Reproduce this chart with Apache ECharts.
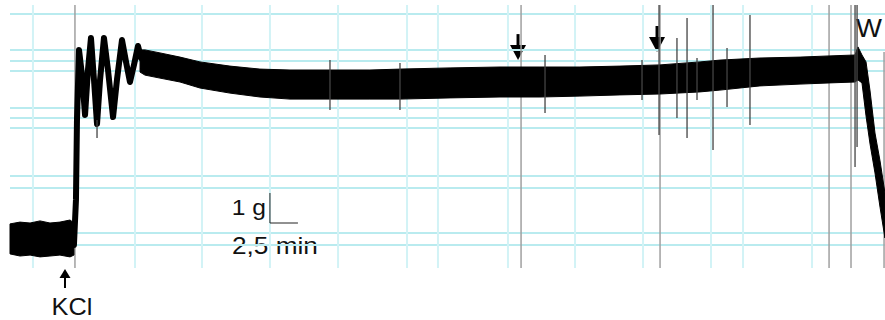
<!DOCTYPE html>
<html><head><meta charset="utf-8">
<script src="https://cdn.jsdelivr.net/npm/echarts@6/dist/echarts.min.js"></script>
<style>html,body{margin:0;padding:0;background:#fff}#c{width:885px;height:320px}</style>
</head><body><div id="c"></div>
<script>
// ---- time axis in minutes, tension in grams ----
// baseline (before KCl)
const baseT  = [0, 0.89, 1.79, 2.68, 3.57, 4.46, 5.36, 5.71];
const baseHi = [1.47, 1.53, 1.50, 1.57, 1.50, 1.53, 1.60, 1.50];
const baseLo = [0.47, 0.40, 0.43, 0.37, 0.40, 0.43, 0.37, 0.43];
// KCl contraction: oscillating rise (trace centre)
const oscT = [5.71, 5.89, 5.98, 6.16, 6.43, 6.70, 6.96, 7.23, 7.50, 7.77, 8.04, 8.39, 8.75, 9.20, 9.55, 10.00, 10.36, 10.71, 11.07, 11.43, 11.70];
const oscG = [0.77, 2.27, 4.93, 7.27, 6.43, 5.10, 6.60, 7.67, 6.27, 4.80, 6.27, 7.67, 6.60, 5.03, 6.27, 7.60, 6.87, 6.20, 6.77, 7.40, 7.00];
// sustained plateau, then washout (W) relaxation: envelope of the noisy trace
const platT  = [11.61, 12.05, 13.39, 15.18, 16.96, 19.64, 22.32, 25.00, 28.57, 32.14, 34.82, 39.29, 43.75, 47.32, 50.89, 54.46, 58.04, 61.61, 63.39, 66.96, 70.54, 73.21, 75.45, 75.71, 76.07, 76.43, 76.79, 77.23, 77.68, 78.12];
const platHi = [7.27, 7.27, 7.17, 7.03, 6.87, 6.73, 6.63, 6.60, 6.60, 6.60, 6.63, 6.67, 6.70, 6.70, 6.70, 6.73, 6.77, 6.87, 6.93, 7.00, 7.03, 7.07, 7.10, 7.37, 7.10, 6.87, 5.90, 4.50, 3.57, 2.50];
const platLo = [6.53, 6.43, 6.33, 6.20, 6.00, 5.83, 5.70, 5.63, 5.63, 5.63, 5.63, 5.67, 5.70, 5.70, 5.73, 5.77, 5.80, 5.87, 5.93, 6.07, 6.13, 6.17, 6.20, 6.27, 6.17, 5.07, 4.13, 3.17, 2.03, 1.00];
// artefact spikes: time, low, high
const spikeT  = [7.77, 28.57, 34.82, 47.77, 56.43, 57.95, 59.55, 60.45, 61.34, 62.77, 64.02, 66.07, 75.45, 75.63];
const spikeLo = [4.33, 5.27, 5.27, 5.17, 5.60, 4.43, 5.00, 4.33, 5.60, 3.93, 5.37, 4.77, 3.37, 4.03];
const spikeHi = [4.93, 6.93, 6.83, 7.10, 6.93, 8.77, 7.67, 8.33, 7.00, 8.77, 7.33, 8.43, 8.77, 8.77];
// event marker lines (grey)
const eventT  = [5.80, 45.63, 58.04, 73.13, 75.09, 78.04];
const eventLo = [0, 0, 0, 0, 0, 0];
const eventHi = [8.77, 8.77, 8.77, 8.77, 8.77, 7.20];
// recorder paper grid
const paperG = [8.47, 7.27, 6.90, 6.57, 5.33, 5.00, 4.67, 3.07, 2.67, 1.17, 0.77];
const paperT = [2.05, 11.16, 17.14, 23.21, 29.29, 35.45, 38.21, 44.46, 50.45, 56.52, 62.59, 65.45, 71.61];
// scale bar: 1 g, 2.5 min
const scaleOrigin = [23.21, 1.50];
const scaleG = 1, scaleMin = 2.5;
const scaleLabels = ['1 g', '2,5 min'];
// drug additions
const kclT = 4.91;
const arrowT = [45.36, 57.77];
const arrowG = [6.93, 7.20];
const washT = 75.54, washG = 8.0;

const chart = echarts.init(document.getElementById('c'), null, {renderer: 'svg'});

function vline(color, width) {
  return function (params, api) {
    const a = api.coord([api.value(0), api.value(1)]);
    const b = api.coord([api.value(0), api.value(2)]);
    return {type: 'line', shape: {x1: a[0], y1: a[1], x2: b[0], y2: b[1]},
      style: {stroke: color, lineWidth: width}};
  };
}
// filled envelope between lo and hi, drawn once as one polygon
function band(T, Lo, Hi) {
  return {
    type: 'custom', silent: true, z: 3,
    data: T.map((t, i) => [t, Lo[i], Hi[i]]), encode: {x: 0, y: [1, 2]},
    renderItem: function (params, api) {
      if (params.dataIndex !== 0) return null;
      const pts = [];
      for (let i = 0; i < T.length; i++) pts.push(api.coord([T[i], Hi[i]]));
      for (let i = T.length - 1; i >= 0; i--) pts.push(api.coord([T[i], Lo[i]]));
      return {type: 'polygon', shape: {points: pts},
        style: {fill: '#000', stroke: '#000', lineWidth: 1, lineJoin: 'round'}};
    }
  };
}

const option = {
  animation: false,
  grid: {left: 10, right: 0, top: 4, bottom: 52},
  xAxis: {type: 'value', min: 0, max: 78.125, show: false},
  yAxis: {type: 'value', min: 0, max: 8.8, show: false},
  series: [
    { // horizontal paper lines
      type: 'custom', silent: true, z: 1,
      data: paperG.map(g => [0, g]), encode: {x: 0, y: 1},
      renderItem: function (params, api) {
        const cs = params.coordSys;
        const y = api.coord([0, api.value(1)])[1];
        return {type: 'line', shape: {x1: cs.x, y1: y, x2: cs.x + cs.width, y2: y},
          style: {stroke: '#b9ebef', lineWidth: 2}};
      }
    },
    { // vertical paper lines
      type: 'custom', silent: true, z: 1,
      data: paperT.map(t => [t, 0, 8.77]), encode: {x: 0, y: [1, 2]},
      renderItem: vline('#d2f3f6', 2)
    },
    { // event lines
      type: 'custom', silent: true, z: 2,
      data: eventT.map((t, i) => [t, eventLo[i], eventHi[i]]), encode: {x: 0, y: [1, 2]},
      renderItem: vline('#a0a0a0', 1.5)
    },
    band(baseT, baseLo, baseHi),
    band(platT, platLo, platHi),
    {type: 'line', symbol: 'none', z: 3,
      lineStyle: {width: 6, color: '#000', join: 'round', cap: 'round'},
      data: oscT.map((t, i) => [t, oscG[i]])},
    { // spikes
      type: 'custom', silent: true, z: 4,
      data: spikeT.map((t, i) => [t, spikeLo[i], spikeHi[i]]), encode: {x: 0, y: [1, 2]},
      renderItem: vline('#444', 1.3)
    },
    { // scale bar
      type: 'line', symbol: 'none', z: 5, lineStyle: {width: 1, color: '#222'},
      data: [[scaleOrigin[0], scaleOrigin[1] + scaleG], scaleOrigin, [scaleOrigin[0] + scaleMin, scaleOrigin[1]]]
    }
  ]
};
chart.setOption(option);

const px = (t, g) => chart.convertToPixel({gridIndex: 0}, [t, g]);
const font = '"Liberation Sans", Arial, sans-serif';
const graphics = [];
arrowT.forEach((t, i) => {
  const p = px(t, arrowG[i]);
  graphics.push({type: 'rect', shape: {x: p[0] - 1.5, y: p[1] - 26, width: 3, height: 14}, style: {fill: '#000'}});
  graphics.push({type: 'polygon', shape: {points: [[p[0] - 8, p[1] - 15], [p[0] + 8, p[1] - 15], [p[0], p[1]]]}, style: {fill: '#000'}});
});
const k = px(kclT, 0);
graphics.push({type: 'polygon', shape: {points: [[k[0], k[1] + 1], [k[0] - 5.5, k[1] + 10], [k[0] + 5.5, k[1] + 10]]}, style: {fill: '#000'}});
graphics.push({type: 'rect', shape: {x: k[0] - 1, y: k[1] + 9, width: 2, height: 11}, style: {fill: '#000'}});
graphics.push({type: 'text', x: k[0] + 7, y: 306.5, scaleX: 1.1,
  style: {text: 'KCl', font: '23px ' + font, fill: '#111', align: 'center', verticalAlign: 'middle'}});
const w = px(washT, washG);
graphics.push({type: 'text', x: w[0], y: w[1], scaleX: 1.1,
  style: {text: 'W', font: '25px ' + font, fill: '#111', align: 'left', verticalAlign: 'middle'}});
const s = px(scaleOrigin[0], scaleOrigin[1]);
graphics.push({type: 'text', x: s[0] - 4, y: s[1] - 16, scaleX: 1.12,
  style: {text: scaleLabels[0], font: '22px ' + font, fill: '#111', align: 'right', verticalAlign: 'middle'}});
graphics.push({type: 'text', x: s[0] - 38, y: s[1] + 23, scaleX: 1.14,
  style: {text: scaleLabels[1], font: '23px ' + font, fill: '#111', align: 'left', verticalAlign: 'middle'}});
chart.setOption({graphic: graphics});
</script></body></html>
